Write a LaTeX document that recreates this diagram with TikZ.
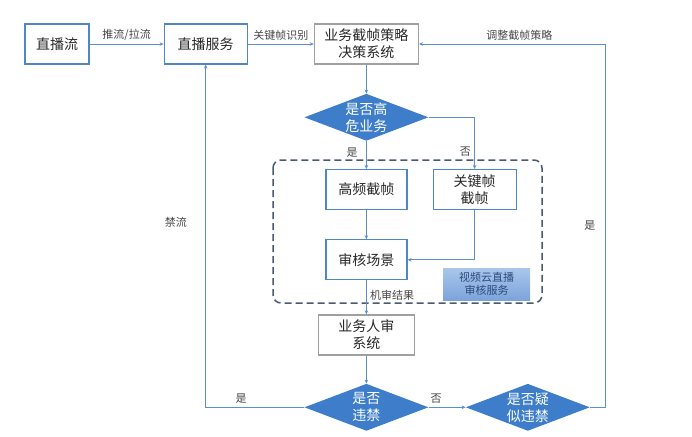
\documentclass[tikz,border=0pt]{standalone}
\usepackage{fontspec}
\setmainfont{Noto Sans CJK SC}
\usepackage{tikz}
\usetikzlibrary{arrows.meta,positioning,shapes.geometric}
\definecolor{linkblue}{RGB}{91,143,208}
\definecolor{edgeblue}{RGB}{79,134,198}
\definecolor{diamondblue}{RGB}{61,125,202}
\definecolor{edgegray}{RGB}{160,160,160}
\definecolor{textgray}{RGB}{40,40,40}
\definecolor{labelgray}{RGB}{70,70,70}
\definecolor{cloudtop}{RGB}{170,198,236}
\definecolor{cloudbot}{RGB}{124,164,218}
\definecolor{cloudtext}{RGB}{44,74,124}
\definecolor{framegray}{RGB}{74,90,114}
\tikzset{
  bluebox/.style={rectangle, draw=edgeblue, line width=1.2pt, fill=white,
                  minimum height=40pt, align=center, text=textgray,
                  font=\fontsize{14}{17}\selectfont},
  graybox/.style={bluebox, draw=edgegray},
  decision/.style={diamond, fill=diamondblue, aspect=2.6, inner sep=0pt,
                   minimum width=124pt, minimum height=47pt, align=center,
                   text=white, font=\fontsize{14}{17}\selectfont},
  cloudbox/.style={rectangle, top color=cloudtop, bottom color=cloudbot,
                   minimum width=87pt, minimum height=32pt, align=center,
                   text=cloudtext, font=\fontsize{11}{13}\selectfont},
  arrow/.style={-{Stealth[length=4pt,width=3.5pt]}, line width=0.8pt, linkblue},
  label/.style={font=\fontsize{11}{13}\selectfont, text=labelgray},
  frame/.style={draw=framegray, line width=1.5pt, dash pattern=on 7pt off 4pt,
                rounded corners=8pt},
}
\begin{document}
\begin{tikzpicture}[x=1pt,y=-1pt]
\useasboundingbox (0,0) rectangle (692,436);
\node[bluebox, minimum width=64pt] (stream) at (57,44) {直播流};
\node[bluebox, minimum width=83pt, right=74pt of stream] (live) {直播服务};
\node[graybox, minimum width=104pt, right=66pt of live] (decide) {业务截帧策略\\决策系统};
\node[decision, below=29pt of decide] (risk) {是否高\\危业务};
\node[bluebox, minimum width=81pt, below=28pt of risk] (hf) {高频截帧};
\node[bluebox, minimum width=83pt, right=25pt of hf] (kf) {关键帧\\截帧};
\node[bluebox, minimum width=81pt, below=29pt of hf] (scene) {审核场景};
\node[cloudbox] (cloud) at (486.5,284) {视频云直播\\审核服务};
\node[graybox, minimum width=96pt, below=34pt of scene] (human) {业务人审\\系统};
\node[decision, below=28pt of human] (ban) {是否\\违禁};
\node[decision, right=37pt of ban] (suspect) {是否疑\\似违禁};

% dashed frame round the machine review
\draw[frame] (273,160) rectangle (542,303);

\draw[arrow] (stream) -- node[label, above] {推流/拉流} (live);
\draw[arrow] (live) -- node[label, above] {关键帧识别} (decide);
\draw[arrow] (decide) -- (risk);
\draw[arrow] (risk.south) -- node[label, pos=0.4, left=5pt] {是} (hf);
\draw[arrow] (risk.east) -| node[label, pos=0.83, left] {否} (kf.north);
\draw[arrow] (hf) -- (scene);
\draw[arrow] (kf.south) |- (scene.east);
\draw[arrow] (scene) -- node[label, pos=0.45, right] {机审结果} (human);
\draw[arrow] (human) -- (ban);
\draw[arrow] (ban.west) -| node[label, pos=0.32, above] {是}
  node[label, pos=0.77, left=15pt] {禁流} (live.south);
\draw[arrow] (ban.east) -- node[label, pos=0.2, above] {否} (suspect.west);
\draw[arrow] (suspect.east) -- ++(15,0) |- node[label, pos=0.25, left=6pt] {是}
  node[label, pos=0.73, above] {调整截帧策略} (decide.east);
\end{tikzpicture}
\end{document}
